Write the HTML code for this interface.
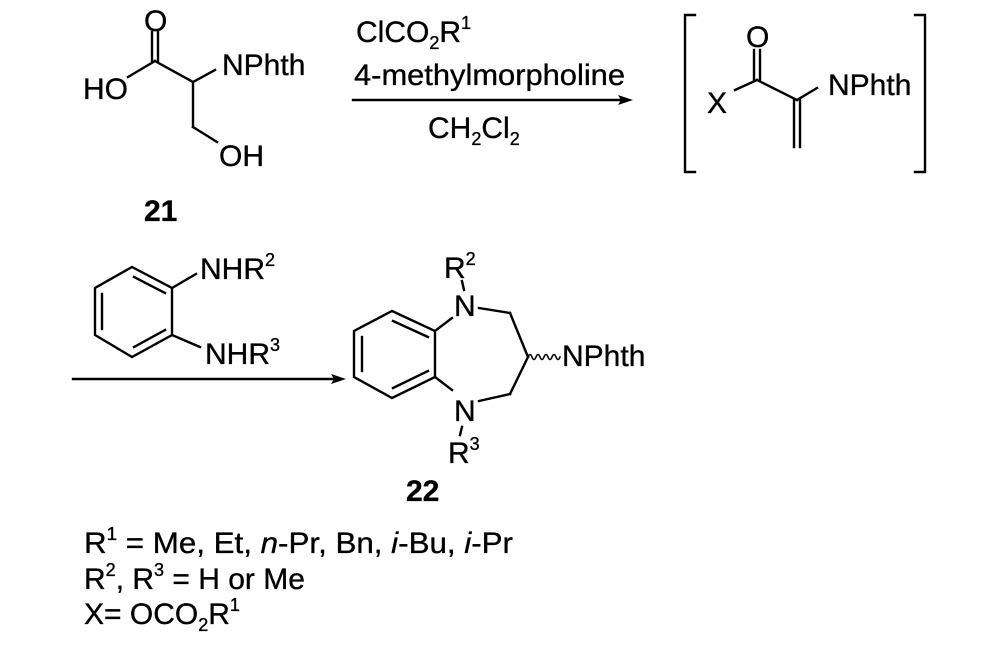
<!DOCTYPE html>
<html><head><meta charset="utf-8"><style>
html,body{margin:0;padding:0;background:#fff}
svg{display:block}
text{font-family:"Liberation Sans",Arial,sans-serif;fill:#000;stroke:#000;stroke-width:0.35}
</style></head><body>
<svg width="1000" height="647" viewBox="0 0 1000 647" xmlns="http://www.w3.org/2000/svg">
<g stroke="#000" stroke-width="2.4" fill="none" stroke-linecap="square">
<line x1="128" y1="77" x2="155" y2="61"/>
<line x1="155" y1="61" x2="193" y2="82"/>
<line x1="152" y1="61" x2="152" y2="32"/>
<line x1="158" y1="61" x2="158" y2="32"/>
<line x1="193" y1="82" x2="215" y2="70"/>
<line x1="193" y1="82" x2="193" y2="127"/>
<line x1="193" y1="127" x2="217" y2="142"/>
<line x1="353" y1="100" x2="620" y2="100"/>
<polyline points="695,15 685,15 685,172 695,172"/>
<polyline points="915,15 925,15 925,172 915,172"/>
<line x1="735" y1="90" x2="757" y2="80"/>
<line x1="757" y1="80" x2="797" y2="100"/>
<line x1="754" y1="80" x2="754" y2="50"/>
<line x1="760" y1="80" x2="760" y2="50"/>
<line x1="797" y1="100" x2="817" y2="88"/>
<line x1="794" y1="100" x2="794" y2="147"/>
<line x1="800" y1="100" x2="800" y2="147"/>
<polygon points="132,267 172,288 172,335 132,357 95,335 95,288"/>
<line x1="134" y1="277" x2="165" y2="293"/>
<line x1="134" y1="347" x2="165" y2="330"/>
<line x1="102" y1="294" x2="102" y2="329"/>
<line x1="172" y1="288" x2="196" y2="274"/>
<line x1="172" y1="335" x2="200" y2="347"/>
<line x1="73" y1="379" x2="333" y2="379"/>
<polygon points="392,311 435,331 435,377 392,398 354,377 354,331"/>
<line x1="393" y1="321" x2="428" y2="337"/>
<line x1="393" y1="388" x2="428" y2="371"/>
<line x1="362" y1="337" x2="362" y2="371"/>
<line x1="435" y1="331" x2="452" y2="318"/>
<line x1="435" y1="377" x2="452" y2="390"/>
<line x1="479" y1="308" x2="510" y2="313"/>
<line x1="510" y1="313" x2="528" y2="357"/>
<line x1="528" y1="357" x2="510" y2="394"/>
<line x1="510" y1="394" x2="479" y2="401"/>
<line x1="462" y1="281" x2="464" y2="290"/>
<line x1="462" y1="427" x2="460" y2="435"/>
<path d="M528,357 q2,-5 4,0 q2,5 4,0 q2,-5 4,0 q2,5 4,0 q2,-5 4,0 q2,5 4,0 q2,-5 4,0 q2,5 4,0" stroke-width="1.6"/>
</g>
<polygon points="633,100 618,95 621,100 618,105" fill="#000"/>
<polygon points="346,379 331,374 334,379 331,384" fill="#000"/>
<g font-size="30">
<text x="144" y="31">O</text>
<text x="83" y="99">HO</text>
<text x="222" y="75">NPhth</text>
<text x="219" y="166">OH</text>
<text x="144" y="221" font-weight="bold">21</text>
<text x="356" y="42">ClCO<tspan font-size="18" dy="7">2</tspan><tspan dy="-7">R</tspan><tspan font-size="18" dy="-13">1</tspan></text>
<text x="354" y="85" textLength="271" lengthAdjust="spacingAndGlyphs">4-methylmorpholine</text>
<text x="428" y="138">CH<tspan font-size="18" dy="7">2</tspan><tspan dy="-7">Cl</tspan><tspan font-size="18" dy="7">2</tspan></text>
<text x="707" y="113">X</text>
<text x="746" y="47">O</text>
<text x="828" y="95">NPhth</text>
<text x="200" y="279">NHR<tspan font-size="18" dy="-13">2</tspan></text>
<text x="205" y="364">NHR<tspan font-size="18" dy="-13">3</tspan></text>
<text x="444" y="278">R<tspan font-size="18" dy="-13">2</tspan></text>
<text x="454" y="316">N</text>
<text x="454" y="421">N</text>
<text x="448" y="463">R<tspan font-size="18" dy="-13">3</tspan></text>
<text x="562" y="366">NPhth</text>
<text x="406" y="501" font-weight="bold">22</text>
<text x="84" y="553" textLength="429" lengthAdjust="spacingAndGlyphs">R<tspan font-size="18" dy="-13">1</tspan><tspan dy="13"> = Me, Et, </tspan><tspan font-style="italic">n</tspan>-Pr, Bn, <tspan font-style="italic">i</tspan>-Bu, <tspan font-style="italic">i</tspan>-Pr</text>
<text x="84" y="589">R<tspan font-size="18" dy="-13">2</tspan><tspan dy="13">, R</tspan><tspan font-size="18" dy="-13">3</tspan><tspan dy="13"> = H or Me</tspan></text>
<text x="84" y="624">X= OCO<tspan font-size="18" dy="7">2</tspan><tspan dy="-7">R</tspan><tspan font-size="18" dy="-13">1</tspan></text>
</g>
</svg>
</body></html>
